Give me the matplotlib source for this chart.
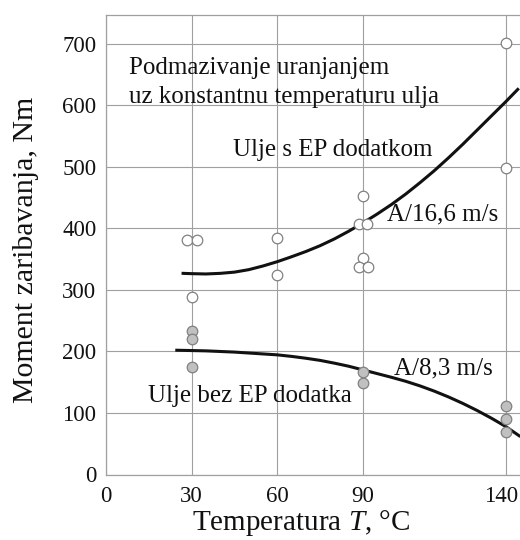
import matplotlib
matplotlib.use("Agg")
import matplotlib.pyplot as plt
from matplotlib.transforms import ScaledTranslation

# Measured points - oil with EP additive (open circles)
ep_x = [28.4, 31.8, 30, 60, 60, 90, 88.7, 91.4, 90, 88.6, 91.7, 140, 140]
ep_y = [381, 381, 288, 384, 324, 452, 407, 407, 352, 338, 338, 702, 498]

# Measured points - oil without EP additive (grey circles)
noep_x = [30, 30, 30, 90, 90, 140, 140, 140]
noep_y = [233, 221, 175, 166, 149, 112, 90, 69]

# Trend curves
curve_ep_x = [27, 30, 35, 40, 45, 50, 55, 60, 65, 70, 75, 80, 85, 90, 95,
              100, 105, 110, 115, 120, 125, 130, 135, 140, 144.2]
curve_ep_y = [327, 326.5, 326, 327, 329, 333, 339, 346, 354, 362.5, 372, 383,
              395.5, 409, 423.5, 439, 456, 474.5, 494, 515, 537, 560, 583, 606, 626]
curve_noep_x = [24.8, 30, 35, 40, 45, 50, 55, 60, 65, 70, 75, 80, 85, 90, 95,
                100, 105, 110, 115, 120, 125, 130, 135, 140, 144.7]
curve_noep_y = [202, 201.5, 201, 200, 199, 197.5, 196, 194.5, 192, 189, 185.5,
                181, 176, 170, 164, 158, 151.5, 144, 135.5, 126, 115.5, 104,
                91.5, 78, 63]

x_ticks = [0, 30, 60, 90, 140]
y_ticks = [0, 100, 200, 300, 400, 500, 600, 700]

plt.rcParams['font.family'] = ['Liberation Serif', 'DejaVu Serif']
plt.rcParams['mathtext.fontset'] = 'custom'
plt.rcParams['mathtext.rm'] = 'Liberation Serif'
plt.rcParams['mathtext.it'] = 'Liberation Serif:italic'

fig = plt.figure(figsize=(5.2, 5.4), dpi=100)
ax = fig.add_axes([106 / 520, 65.5 / 540, 414 / 520, 459.5 / 540])

grid_col = '#a0a0a0'
ax.set_xlim(0, 145)
ax.set_ylim(0, 747)
ax.set_xticks(x_ticks)
ax.set_yticks(y_ticks)
ax.grid(True, color=grid_col, linewidth=0.8)
ax.set_axisbelow(True)
for side in ['left', 'top', 'bottom']:
    ax.spines[side].set_color(grid_col)
    ax.spines[side].set_linewidth(0.9)
ax.spines['right'].set_visible(False)
ax.tick_params(length=0, labelsize=16.5, colors='#111111')
ax.tick_params(axis='x', pad=8)
ax.tick_params(axis='y', pad=7)

# last x label sits at the right edge, nudge it in a little
last = ax.get_xticklabels()[-1]
last.set_transform(last.get_transform() + ScaledTranslation(-3 / 72, 0, fig.dpi_scale_trans))

ax.plot(curve_ep_x, curve_ep_y, color='#111111', linewidth=2.2, zorder=3)
ax.plot(curve_noep_x, curve_noep_y, color='#111111', linewidth=2.2, zorder=3)

ax.plot(ep_x, ep_y, 'o', markersize=7.6, markerfacecolor='white',
        markeredgecolor='#808080', markeredgewidth=0.9, zorder=4)
ax.plot(noep_x, noep_y, 'o', markersize=7.6, markerfacecolor='#c0c0c0',
        markeredgecolor='#808080', markeredgewidth=0.9, zorder=4)

txt = dict(fontsize=18, color='#111111', va='center', ha='left')
ax.text(8.1, 661, 'Podmazivanje uranjanjem', **txt)
ax.text(8.1, 614, 'uz konstantnu temperaturu ulja', **txt)
ax.text(44.5, 527, 'Ulje s EP dodatkom', **txt)
ax.text(98.5, 422, 'A/16,6 m/s', **txt)
ax.text(100.7, 173, 'A/8,3 m/s', **txt)
ax.text(14.8, 127, 'Ulje bez EP dodatka', **txt)

ax.set_xlabel('Temperatura $T$, °C', fontsize=21, color='#111111', va='baseline')
ax.xaxis.set_label_coords(0.472, -0.121)
ax.set_ylabel('Moment zaribavanja, Nm', fontsize=21.5, color='#111111', ha='center', va='center')
ax.yaxis.set_label_coords(-0.193, 0.489)

fig.savefig('out.png', dpi=100, facecolor='white')
